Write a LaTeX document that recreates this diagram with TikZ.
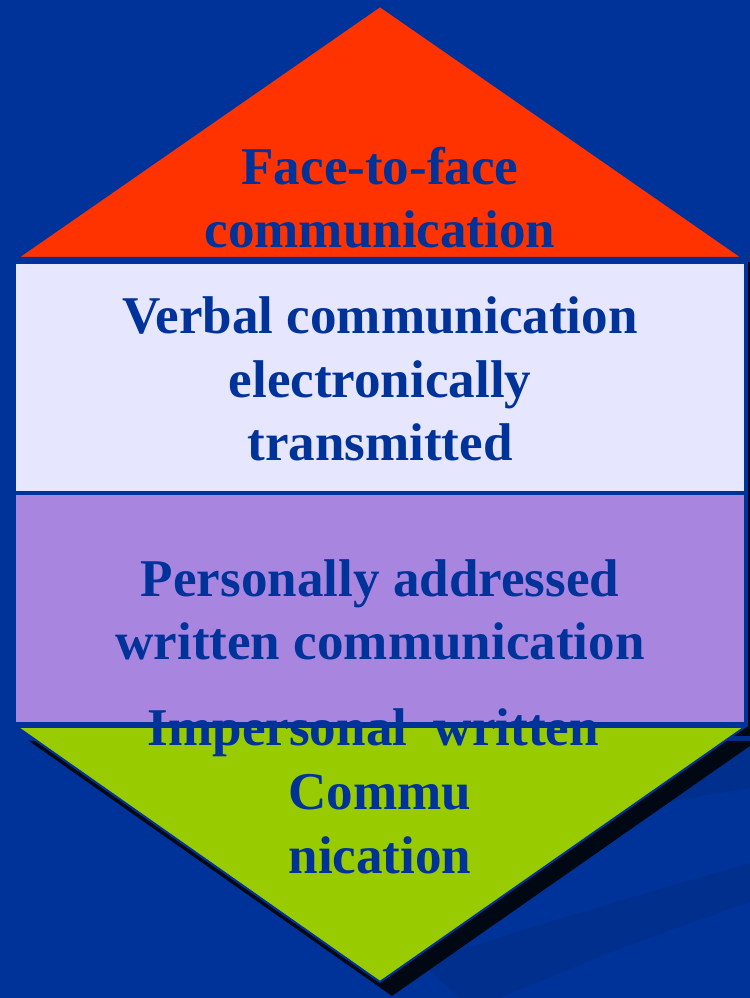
\documentclass[tikz,border=0pt]{standalone}
\usepackage{fontspec}
\setmainfont{Liberation Serif}
\usepackage{xcolor}

\definecolor{slideblue}{HTML}{003399}
\definecolor{bandblue}{HTML}{002F8E}
\definecolor{facered}{HTML}{FF3300}
\definecolor{verballav}{HTML}{E6E6FF}
\definecolor{letterlilac}{HTML}{A886E0}
\definecolor{printgreen}{HTML}{99CC00}
\definecolor{shadowink}{HTML}{000814}

\tikzset{
  tier/.style={draw=slideblue, line width=0.04cm},
  tierline/.style={draw=slideblue, line width=0.02cm},
  tiertext/.style={font=\fontsize{15.1}{18.2}\selectfont\bfseries, text=slideblue,
    align=center, anchor=base, inner sep=0pt}
}

\begin{document}
\begin{tikzpicture}
  \useasboundingbox (0,0) rectangle (7.5,9.98);
  \fill[slideblue] (0,0) rectangle (7.5,9.98);
  \fill[bandblue] (5.9,1.75) .. controls (6.6,1.95) .. (7.5,2.1) -- (7.5,2.9) -- cycle;
  \fill[bandblue] (4.2,0.35) .. controls (5.6,0.8) .. (7.5,1.35) -- (7.5,0.96)
    .. controls (6.2,0.5) .. (5.0,0) -- (4.6,0) -- cycle;

  % drop shadows
  \fill[shadowink] (1.0,7.36) rectangle (7.58,2.62);
  \fill[shadowink] (0.29,2.57) -- (7.57,2.57) -- (3.92,0.02) -- cycle;

  % tiers, bottom up
  \draw[tierline, fill=printgreen] (0.17,2.71) -- (7.45,2.71) -- (3.80,0.16) -- cycle;
  \draw[tier, fill=letterlilac] (0.14,5.05) rectangle (7.46,2.74);
  \draw[tier, fill=verballav] (0.14,7.36) rectangle (7.46,5.05);
  \draw[tierline, fill=facered] (0.17,7.40) -- (7.43,7.40) -- (3.80,9.92) -- cycle;

  % text sits on the baseline of its last line
  \node[tiertext] (face) at (3.80,7.50) {Face-to-face\\communication};
  \node[tiertext] (verbal) at (3.80,5.37) {Verbal communication\\electronically\\transmitted};
  \node[tiertext] (personal) at (3.80,3.38) {Personally addressed\\written communication};
  \node[tiertext] (impersonal) at (3.80,1.25) {Impersonal\ \ written\phantom{\ }\\Commu\\nication};
\end{tikzpicture}
\end{document}
